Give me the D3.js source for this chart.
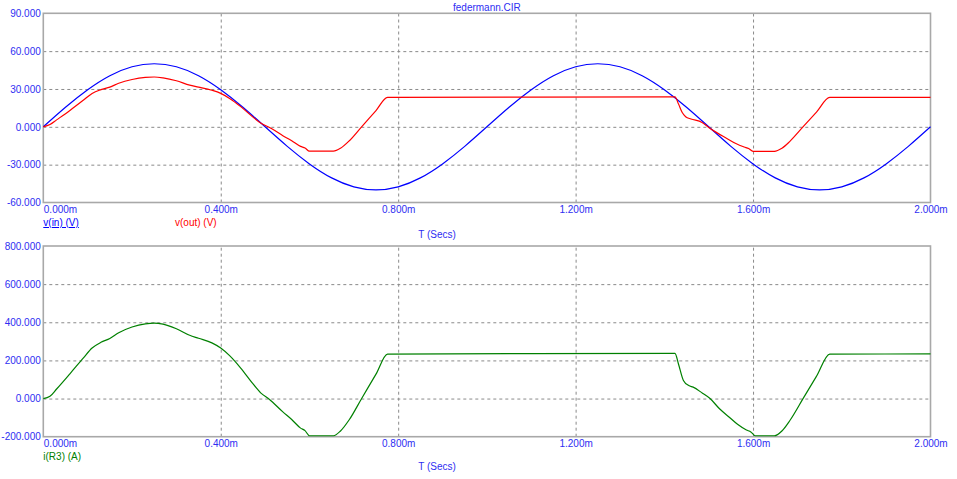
<!DOCTYPE html>
<html>
<head>
<meta charset="utf-8">
<script src="https://cdn.jsdelivr.net/npm/d3@7/dist/d3.min.js"></script>
<style>
  html, body { margin: 0; padding: 0; background: #ffffff; }
  svg { display: block; }
  text { font-family: "Liberation Sans", Arial, sans-serif; font-size: 10px; }
</style>
</head>
<body>
<svg id="chart" width="957" height="479"></svg>
<script>
// ---------------- DATA ----------------
const title = "federmann.CIR";
const xTicks = [0, 0.4, 0.8, 1.2, 1.6, 2.0];           // ms
const topYTicks = [90, 60, 30, 0, -30, -60];
const botYTicks = [800, 600, 400, 200, 0, -200];

const vinTime = [0,0.05,0.10,0.15,0.20,0.25,0.30,0.35,0.40,0.45,0.50,0.55,0.60,0.65,0.70,0.75,0.80,0.85,0.90,0.95,
                 1.00,1.05,1.10,1.15,1.20,1.25,1.30,1.35,1.40,1.45,1.50,1.55,1.60,1.65,1.70,1.75,1.80,1.85,1.90,1.95,2.00];
const vinValues = [0,15.5,29.4,40.5,47.6,50,47.6,40.5,29.4,15.5,0,-15.5,-29.4,-40.5,-47.6,-50,-47.6,-40.5,-29.4,-15.5,
                   0,15.5,29.4,40.5,47.6,50,47.6,40.5,29.4,15.5,0,-15.5,-29.4,-40.5,-47.6,-50,-47.6,-40.5,-29.4,-15.5,0];

const voutTime = [0,0.015,0.030,0.060,0.090,0.110,0.130,0.150,0.170,0.200,0.230,0.250,0.270,0.300,0.330,0.350,0.380,0.400,
                  0.420,0.445,0.470,0.490,0.510,0.540,0.560,0.580,0.590,0.600,0.654,0.670,0.690,0.718,0.750,0.776,1.100,
                  1.424,1.432,1.440,1.448,1.460,1.485,1.500,1.520,1.540,1.560,1.580,1.590,1.600,1.648,1.665,1.683,1.713,1.743,1.773,2.000];
const voutValues = [0,1.8,5.5,13,21,26.5,29.5,31.5,34.5,37.5,39.2,39.5,38.8,36.5,33,31.5,29,26.5,
                    22.5,16,8.5,3,-0.5,-7,-11,-15.5,-16.8,-19.3,-19.3,-17,-11,0.2,12.9,23.3,23.6,
                    23.7,18,11.5,8,6.2,3.5,-0.5,-5,-9,-13,-16,-17.2,-19.4,-19.4,-17,-11.5,0.1,11.7,23.3,23.4];

const iTime = [0,0.015,0.030,0.060,0.090,0.110,0.130,0.150,0.170,0.200,0.230,0.250,0.270,0.300,0.330,0.350,0.380,0.400,
               0.420,0.445,0.470,0.490,0.510,0.540,0.560,0.580,0.590,0.600,0.654,0.670,0.690,0.718,0.750,0.776,1.100,
               1.424,1.432,1.443,1.455,1.465,1.486,1.503,1.525,1.545,1.565,1.585,1.595,1.605,1.648,1.665,1.683,1.713,1.743,1.773,2.000];
const iValues = [0,12,50,130,212,265,295,315,345,375,392,396,390,366,332,316,292,265,
                 225,160,85,30,-5,-70,-110,-155,-168,-195,-195,-170,-110,2,128,233,236,
                 237,180,95,68,60,28,0,-55,-95,-135,-165,-175,-195,-195,-170,-115,1,117,233,234];

// ---------------- LAYOUT ----------------
const svg = d3.select("#chart");
const X0 = 43.3, X1 = 930.5;
const textBlue = "#2e2ef2";
const frameColor = "#a8a8a8";
const gridColor = "#8a8a8a";

const x = d3.scaleLinear().domain([0, 2.0]).range([X0, X1]);
const yTop = d3.scaleLinear().domain([-60, 90]).range([202.5, 13.3]);
const yBot = d3.scaleLinear().domain([-200, 800]).range([436.7, 246]);

function fmtX(d) { return d.toFixed(3) + "m"; }
function fmtY(d) { return d.toFixed(3); }

function drawPanel(y, yTicks) {
  const top = y.range()[1], bottom = y.range()[0];
  const g = svg.append("g");
  g.append("g")
    .attr("transform", `translate(${X0},0)`)
    .call(d3.axisLeft(y).tickValues(yTicks.filter(v => v !== y.domain()[0] && v !== y.domain()[1]))
      .tickSize(-(X1 - X0)).tickFormat(""))
    .call(a => a.select(".domain").remove())
    .call(a => a.selectAll("line").attr("stroke", gridColor).attr("stroke-dasharray", "3,3").attr("stroke-width", 1));
  g.append("g")
    .attr("transform", `translate(0,${bottom})`)
    .call(d3.axisBottom(x).tickValues(xTicks.filter(v => v !== 0 && v !== 2.0))
      .tickSize(-(bottom - top)).tickFormat(""))
    .call(a => a.select(".domain").remove())
    .call(a => a.selectAll("line").attr("stroke", gridColor).attr("stroke-dasharray", "3,3").attr("stroke-width", 1));
  g.append("rect")
    .attr("x", X0).attr("y", top).attr("width", X1 - X0).attr("height", bottom - top)
    .attr("fill", "none").attr("stroke", frameColor).attr("stroke-width", 1.6);
  g.append("g")
    .attr("transform", `translate(${X0},0)`)
    .call(d3.axisLeft(y).tickValues(yTicks).tickSize(0).tickPadding(2.5).tickFormat(fmtY))
    .call(a => a.select(".domain").remove())
    .call(a => a.selectAll("text").attr("fill", textBlue).style("font-size", "10px")
      .style("font-family", '"Liberation Sans", Arial, sans-serif'));
  g.append("g")
    .attr("transform", `translate(0,${bottom})`)
    .call(d3.axisBottom(x).tickValues(xTicks).tickSize(0).tickPadding(3).tickFormat(fmtX))
    .call(a => a.select(".domain").remove())
    .call(a => a.selectAll("text").attr("fill", textBlue).style("font-size", "10px")
      .style("font-family", '"Liberation Sans", Arial, sans-serif'))
    .call(a => a.selectAll(".tick").filter(d => d === 0).select("text").attr("text-anchor", "start"));
  return g;
}

drawPanel(yTop, topYTicks);
drawPanel(yBot, botYTicks);

svg.append("text").attr("x", (X0 + X1) / 2).attr("y", 11).attr("text-anchor", "middle")
  .attr("fill", textBlue).text(title);

function drawLine(times, values, y, color, curve) {
  const pts = times.map((t, i) => [t, values[i]]);
  svg.append("path")
    .datum(pts)
    .attr("fill", "none")
    .attr("stroke", color)
    .attr("stroke-width", 1.2)
    .attr("d", d3.line().x(d => x(d[0])).y(d => y(d[1])).curve(curve));
}
drawLine(vinTime, vinValues, yTop, "#0000ff", d3.curveNatural);
drawLine(voutTime, voutValues, yTop, "#ff0000", d3.curveMonotoneX);
drawLine(iTime, iValues, yBot, "#008000", d3.curveMonotoneX);

svg.append("text").attr("x", X0).attr("y", 226).attr("fill", "#0000ff")
  .style("text-decoration", "underline").text("v(in) (V)");
svg.append("text").attr("x", 175).attr("y", 226).attr("fill", "#ff0000").text("v(out) (V)");
svg.append("text").attr("x", 437).attr("y", 238).attr("text-anchor", "middle").attr("fill", textBlue).text("T (Secs)");

svg.append("text").attr("x", X0).attr("y", 460).attr("fill", "#008000").text("i(R3) (A)");
svg.append("text").attr("x", 437).attr("y", 470).attr("text-anchor", "middle").attr("fill", textBlue).text("T (Secs)");
</script>
</body>
</html>
